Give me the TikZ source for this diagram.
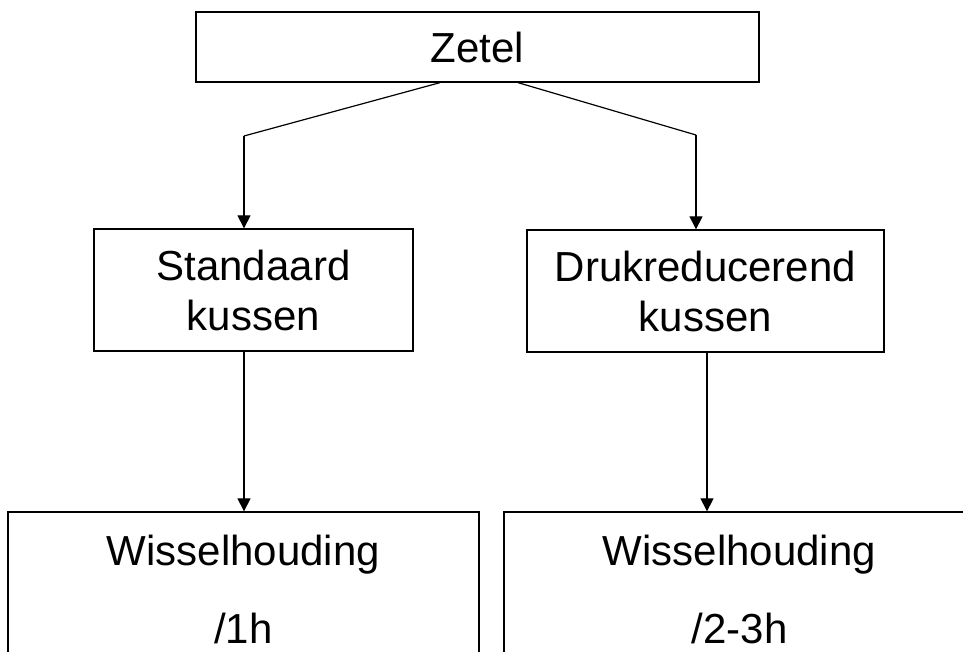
\documentclass[tikz,border=0pt]{standalone}
\usepackage{fontspec}
\setmainfont{Liberation Sans}
\usetikzlibrary{arrows.meta}
\begin{document}
\begin{tikzpicture}[x=1pt,y=-1pt,
  box/.style={draw=black,line width=1.3pt,rectangle,inner sep=0pt,align=center},
  midtext/.style={font=\fontsize{42}{50}\selectfont},
  lowtext/.style={font=\fontsize{42}{78}\selectfont},
  link/.style={draw=black,line width=1.2pt},
  arrowlink/.style={link,-{Triangle[width=13pt,length=13pt]}}]
\useasboundingbox (0,0) rectangle (963,652);

% top level
\node[box,font=\fontsize{42}{50}\selectfont,minimum width=563pt,minimum height=70pt] (zetel) at (477.5,47) {Zetel};

% cushion types
\node[box,midtext,minimum width=319pt,minimum height=122pt] (std) at (253.5,290) {Standaard\\kussen};
\node[box,midtext,minimum width=357pt,minimum height=122pt] (druk) at (705.5,291) {Drukreducerend\\kussen};

% repositioning intervals (boxes run past the lower edge)
\node[box,lowtext,minimum width=471pt,minimum height=154pt] (wl) at (243.5,589) {Wisselhouding\\/1h};
\node[box,lowtext,minimum width=471pt,minimum height=154pt] (wr) at (739.5,589) {Wisselhouding\\/2-3h};

% branches from the seat
\coordinate (kl) at (244,136);
\coordinate (kr) at (696,135);
\draw[link] ([xshift=-37.5pt]zetel.south) -- (kl);
\draw[arrowlink] (kl) -- (kl |- std.north);
\draw[link] ([xshift=40.5pt]zetel.south) -- (kr);
\draw[arrowlink] (kr) -- (kr |- druk.north);

% cushions to intervals
\draw[arrowlink] ([xshift=-9.5pt]std.south) -- ([xshift=-9.5pt]std.south |- wl.north);
\draw[arrowlink] ([xshift=1.5pt]druk.south) -- ([xshift=1.5pt]druk.south |- wr.north);
\end{tikzpicture}
\end{document}
